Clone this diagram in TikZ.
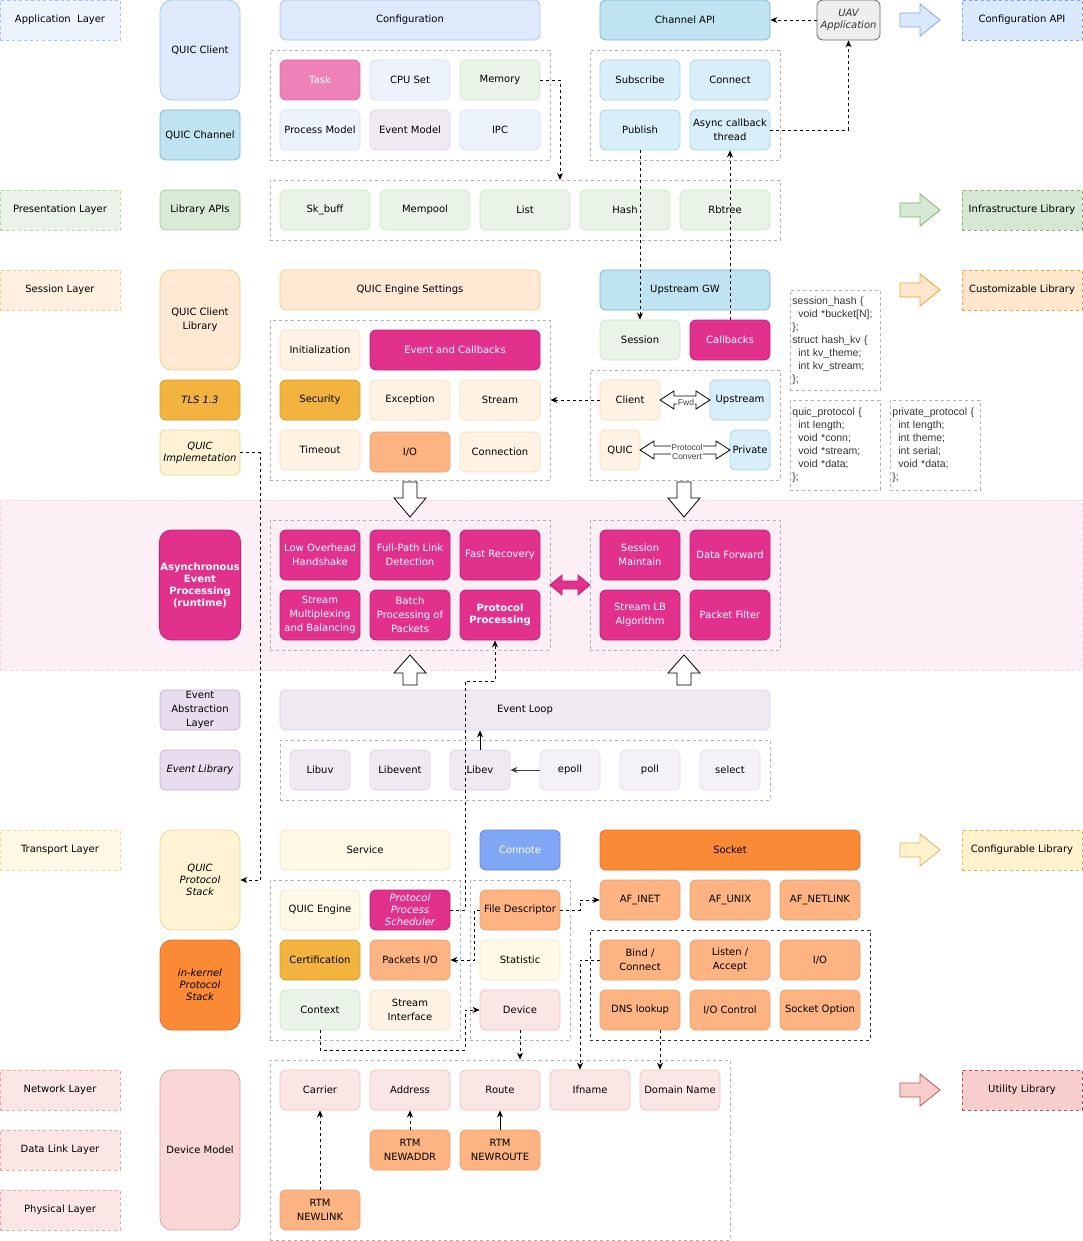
\documentclass[tikz,border=0pt]{standalone}
\usepackage{fontspec}
\setmainfont{DejaVu Sans}
\newfontfamily\codefont{Liberation Sans}
\usetikzlibrary{arrows.meta}

\definecolor{appF}{HTML}{EDF3FC}\definecolor{appD}{HTML}{A9C4EB}
\definecolor{presF}{HTML}{E9F3E7}\definecolor{presD}{HTML}{B5D6A7}
\definecolor{sessF}{HTML}{FFF0E0}\definecolor{sessD}{HTML}{F5C98A}
\definecolor{transF}{HTML}{FFF8E4}\definecolor{transD}{HTML}{F0DA95}
\definecolor{netF}{HTML}{FBE5E5}\definecolor{netD}{HTML}{E8A5A5}
\definecolor{cfgapiF}{HTML}{DAE8FC}\definecolor{cfgapiD}{HTML}{7EA6E0}
\definecolor{infraF}{HTML}{D5E8D4}\definecolor{infraD}{HTML}{82B366}
\definecolor{custF}{HTML}{FFE6CC}\definecolor{custD}{HTML}{E6A630}
\definecolor{confF}{HTML}{FFF2CC}\definecolor{confD}{HTML}{D6B656}
\definecolor{utilF}{HTML}{F8CECC}\definecolor{utilD}{HTML}{B85450}
\definecolor{blueF}{HTML}{DEEAFB}\definecolor{blueD}{HTML}{A9C4EB}
\definecolor{blueL}{HTML}{EDF3FC}\definecolor{blueLD}{HTML}{D3E1F5}
\definecolor{cyanF}{HTML}{BFE3F1}\definecolor{cyanD}{HTML}{78B6D2}
\definecolor{cyanL}{HTML}{D8EEF8}\definecolor{cyanLD}{HTML}{A6D2E8}
\definecolor{greenF}{HTML}{D9EAD7}\definecolor{greenD}{HTML}{A9CF9A}
\definecolor{greenL}{HTML}{E9F3E7}\definecolor{greenLD}{HTML}{CFE5C6}
\definecolor{orangeF}{HTML}{FFE9D4}\definecolor{orangeD}{HTML}{F0CB8C}
\definecolor{orangeL}{HTML}{FFF3E6}\definecolor{orangeLD}{HTML}{F6DDB3}
\definecolor{goldF}{HTML}{F2B43F}\definecolor{goldD}{HTML}{D99A25}
\definecolor{yellowF}{HTML}{FFF3D3}\definecolor{yellowD}{HTML}{EDD494}
\definecolor{yellowL}{HTML}{FFF9E7}\definecolor{yellowLD}{HTML}{F3E6BC}
\definecolor{pinkF}{HTML}{EE82B8}\definecolor{pinkD}{HTML}{E06CA6}
\definecolor{magF}{HTML}{E1318D}\definecolor{magD}{HTML}{C4216F}
\definecolor{purpleF}{HTML}{E7DDEE}\definecolor{purpleD}{HTML}{C7B2D7}
\definecolor{purpleL}{HTML}{EFEAF2}\definecolor{purpleLD}{HTML}{DCD0E4}
\definecolor{purpleLL}{HTML}{F4F2F7}\definecolor{purpleLLD}{HTML}{E3DEEA}
\definecolor{connoteF}{HTML}{7FA7F4}\definecolor{connoteD}{HTML}{5C8AE2}
\definecolor{socketF}{HTML}{FA8A35}\definecolor{socketD}{HTML}{E07028}
\definecolor{salmonF}{HTML}{FDB482}\definecolor{salmonD}{HTML}{EC9D70}
\definecolor{redF}{HTML}{F8D7D6}\definecolor{redD}{HTML}{E2A4A2}
\definecolor{redL}{HTML}{FBE6E6}\definecolor{redLD}{HTML}{EFC0BF}
\definecolor{uavF}{HTML}{EEEEEE}\definecolor{uavD}{HTML}{666666}
\definecolor{bandF}{HTML}{FCF0F6}\definecolor{bandD}{HTML}{F5D3E4}
\definecolor{groupD}{HTML}{B0B0B0}
\definecolor{codeT}{HTML}{333333}

\tikzset{
  box/.style={draw, rounded corners=6pt, line width=0.8pt, align=center, inner sep=1pt,
    minimum width=80pt, minimum height=40pt},
  tall/.style={rounded corners=12pt},
  layer/.style={draw, dashed, line width=0.8pt, minimum width=120pt, minimum height=40pt, align=center},
  group/.style={draw=groupD, dashed, line width=0.8pt, inner sep=0pt},
  code/.style={draw=groupD, dashed, line width=0.8pt, anchor=north west, align=left, inner sep=2pt,
    text width=86pt, font=\codefont\fontsize{10.5}{13}\selectfont, text=codeT},
  lbl/.style={fill=white, inner sep=0.5pt, align=center, text=darkgray,
    font=\codefont\fontsize{8.5}{9}\selectfont},
  dlink/.style={draw, line width=0.8pt, dash pattern=on 3pt off 3pt, -{Stealth[length=7pt,width=6pt]}},
  slink/.style={draw, line width=0.8pt, -{Stealth[length=7pt,width=6pt]}},
  cblue/.style={fill=blueF, draw=blueD},
  cbluel/.style={fill=blueL, draw=blueLD},
  ccyan/.style={fill=cyanF, draw=cyanD},
  ccyanl/.style={fill=cyanL, draw=cyanLD},
  cgreen/.style={fill=greenF, draw=greenD},
  cgreenl/.style={fill=greenL, draw=greenLD},
  corange/.style={fill=orangeF, draw=orangeD},
  corangel/.style={fill=orangeL, draw=orangeLD},
  cgold/.style={fill=goldF, draw=goldD},
  cyellow/.style={fill=yellowF, draw=yellowD},
  cyellowl/.style={fill=yellowL, draw=yellowLD},
  cpink/.style={fill=pinkF, draw=pinkD, text=white},
  cmag/.style={fill=magF, draw=magD, text=white},
  cpurple/.style={fill=purpleF, draw=purpleD},
  cpurplel/.style={fill=purpleL, draw=purpleLD},
  cpurplell/.style={fill=purpleLL, draw=purpleLLD},
  cconnote/.style={fill=connoteF, draw=connoteD, text=white},
  csocket/.style={fill=socketF, draw=socketD},
  csalmon/.style={fill=salmonF, draw=salmonD},
  cred/.style={fill=redF, draw=redD},
  credl/.style={fill=redL, draw=redLD},
  cgray/.style={fill=uavF, draw=uavD, text=codeT},
  rarrow/.pic={\draw[pic actions] (0,-7) -- (20,-7) -- (20,-16) -- (40,0) -- (20,16) -- (20,7) -- (0,7) -- cycle;},
  darrow/.pic={\draw[pic actions] (-7,0) -- (7,0) -- (7,16) -- (16,16) -- (0,35) -- (-16,16) -- (-7,16) -- cycle;},
  uarrow/.pic={\draw[pic actions] (0,0) -- (16,18) -- (7,18) -- (7,30) -- (-7,30) -- (-7,18) -- (-16,18) -- cycle;},
  pics/dblarrow/.style={code={\draw[pic actions] (-#1,0) -- (-#1+14,-9) -- (-#1+14,-4) -- (#1-14,-4) -- (#1-14,-9)
    -- (#1,0) -- (#1-14,9) -- (#1-14,4) -- (-#1+14,4) -- (-#1+14,9) -- cycle;}},
}

\begin{document}
\begin{tikzpicture}[x=1pt, y=-1pt, font=\fontsize{10}{14}\selectfont]
\useasboundingbox (0,0) rectangle (1082,1241);
\draw[fill=bandF, draw=bandD, dashed, line width=0.8pt] (0,500) rectangle (1082,670);

\node (appl) at (60,20) [layer, fill=appF, draw=appD]{Application\ \ Layer};
\node (presl) at (60,210) [layer, fill=presF, draw=presD]{Presentation Layer};
\node (sessl) at (60,290) [layer, fill=sessF, draw=sessD]{Session Layer};
\node (transl) at (60,850) [layer, fill=transF, draw=transD]{Transport Layer};
\node (netl) at (60,1090) [layer, fill=netF, draw=netD]{Network Layer};
\node (linkl) at (60,1150) [layer, fill=netF, draw=netD]{Data Link Layer};
\node (phyl) at (60,1210) [layer, fill=netF, draw=netD]{Physical Layer};

\node (qclient) at (200,50) [box, tall, cblue, minimum height=100pt]{QUIC Client};
\node (qchannel) at (200,135) [box, ccyan, minimum height=50pt]{QUIC Channel};
\node (libapi) at (200,210) [box, cgreen]{Library APIs};
\node (qclib) at (200,320) [box, tall, corange, minimum height=100pt]{QUIC Client\\Library};
\node (tls) at (200,400) [box, cgold, font=\itshape]{TLS 1.3};
\node (qimpl) at (200,452.5) [box, cyellow, minimum height=45pt, font=\itshape]{QUIC\\Implemetation};
\node (async) at (200,585) [box, tall, cmag, minimum height=110pt, font=\bfseries]{Asynchronous\\Event\\Processing\\(runtime)};
\node (evabs) at (200,710) [box, cpurple]{Event\\Abstraction\\Layer};
\node (evlib) at (200,770) [box, cpurple, font=\itshape]{Event Library};
\node (qstack) at (200,880) [box, tall, cyellow, minimum height=100pt, font=\itshape]{QUIC\\Protocol\\Stack};
\node (kstack) at (200,985) [box, tall, csocket, minimum height=90pt, font=\itshape]{in-kernel\\Protocol\\Stack};
\node (devmodel) at (200,1150) [box, tall, cred, minimum height=160pt]{Device Model};

\node (config) at (410,20) [box, cblue, minimum width=260pt]{Configuration};
\node (cfggrp) at (410,105) [group, minimum width=280pt, minimum height=110pt]{};
\node (task) at (320,80) [box, cpink]{Task};
\node (cpuset) at (410,80) [box, cbluel]{CPU Set};
\node (memory) at (500,80) [box, cgreenl]{Memory};
\node (procm) at (320,130) [box, cbluel]{Process Model};
\node (evmodel) at (410,130) [box, cpurplel]{Event Model};
\node (ipc) at (500,130) [box, cbluel]{IPC};

\node (chapi) at (685,20) [box, ccyan, minimum width=170pt]{Channel API};
\node (chgrp) at (685,105) [group, minimum width=190pt, minimum height=110pt]{};
\node (subscribe) at (640,80) [box, ccyanl]{Subscribe};
\node (connect) at (730,80) [box, ccyanl]{Connect};
\node (publish) at (640,130) [box, ccyanl]{Publish};
\node (asynccb) at (730,130) [box, ccyanl]{Async callback\\thread};
\node (uav) at (848.5,20) [box, cgray, minimum width=63pt, font=\itshape]{UAV\\Application};

\node (libgrp) at (525,210) [group, minimum width=510pt, minimum height=60pt]{};
\node (skbuff) at (325,210) [box, cgreenl, minimum width=90pt]{Sk\_buff};
\node (mempool) at (425,210) [box, cgreenl, minimum width=90pt]{Mempool};
\node (list) at (525,210) [box, cgreenl, minimum width=90pt]{List};
\node (hash) at (625,210) [box, cgreenl, minimum width=90pt]{Hash};
\node (rbtree) at (725,210) [box, cgreenl, minimum width=90pt]{Rbtree};
\coordinate (memin) at (560,180);

\node (engset) at (410,290) [box, corange, minimum width=260pt]{QUIC Engine Settings};
\node (upgw) at (685,290) [box, ccyan, minimum width=170pt]{Upstream GW};
\node (session) at (640,340) [box, cgreenl]{Session};
\node (callbacks) at (730,340) [box, cmag]{Callbacks};

\node (enggrp) at (410,400) [group, minimum width=280pt, minimum height=160pt]{};
\node (init) at (320,350) [box, corangel]{Initialization};
\node (evcb) at (455,350) [box, cmag, minimum width=170pt]{Event and Callbacks};
\node (security) at (320,400) [box, cgold]{Security};
\node (exception) at (410,400) [box, corangel]{Exception};
\node (stream) at (500,400) [box, corangel]{Stream};
\node (timeout) at (320,450) [box, corangel]{Timeout};
\node (io) at (410,452) [box, csalmon]{I/O};
\node (connection) at (500,452) [box, corangel]{Connection};

\node (fwdgrp) at (685,425) [group, minimum width=190pt, minimum height=110pt]{};
\node (client) at (630,400) [box, corangel, minimum width=60pt]{Client};
\node (upstream) at (740,400) [box, ccyanl, minimum width=60pt]{Upstream};
\node (quic) at (620,450) [box, corangel, minimum width=40pt]{QUIC};
\node (private) at (750,450) [box, ccyanl, minimum width=40pt]{Private};
\pic[draw=black, fill=white, line width=0.8pt] at (685,400) {dblarrow=25};
\node (fwdlbl) at (686,402) [lbl]{Fwd};
\pic[draw=black, fill=white, line width=0.8pt] at (685,450) {dblarrow=45};
\node (convlbl) at (687,452) [lbl]{Protocol\\Convert};

\node (hashcode) at (790,290) [code, minimum height=100pt]{session\_hash \{\\\hspace*{6pt}void *bucket[N];\\\};\\struct hash\_kv \{\\\hspace*{6pt}int kv\_theme;\\\hspace*{6pt}int kv\_stream;\\\};};
\node (quiccode) at (790,400) [code, minimum height=90pt]{quic\_protocol \{\\\hspace*{6pt}int length;\\\hspace*{6pt}void *conn;\\\hspace*{6pt}void *stream;\\\hspace*{6pt}void *data;\\\};};
\node (privcode) at (890,400) [code, minimum height=90pt]{private\_protocol \{\\\hspace*{6pt}int length;\\\hspace*{6pt}int theme;\\\hspace*{6pt}int serial;\\\hspace*{6pt}void *data;\\\};};

\pic[draw=black, fill=white, line width=0.8pt] at (410,482) {darrow};
\pic[draw=black, fill=white, line width=0.8pt] at (684,482) {darrow};

\node (featgrp) at (410,585) [group, minimum width=280pt, minimum height=130pt]{};
\node (lowoh) at (320,555) [box, cmag, minimum height=50pt]{Low Overhead\\Handshake};
\node (fullpath) at (410,555) [box, cmag, minimum height=50pt]{Full-Path Link\\Detection};
\node (fastrec) at (500,555) [box, cmag, minimum height=50pt]{Fast Recovery};
\node (smux) at (320,615) [box, cmag, minimum height=50pt]{Stream\\Multiplexing\\and Balancing};
\node (batch) at (410,615) [box, cmag, minimum height=50pt]{Batch\\Processing of\\Packets};
\node (protoproc) at (500,615) [box, cmag, minimum height=50pt, font=\bfseries]{Protocol\\Processing};
\draw[fill=magF, draw=magD, line width=0.8pt] (550,585) -- (562,575) -- (562,581) -- (578,581) -- (578,575) -- (590,585)
  -- (578,595) -- (578,589) -- (562,589) -- (562,595) -- cycle;
\node (sessgrp) at (685,585) [group, minimum width=190pt, minimum height=130pt]{};
\node (smaint) at (640,555) [box, cmag, minimum height=50pt]{Session\\Maintain};
\node (dfwd) at (730,555) [box, cmag, minimum height=50pt]{Data Forward};
\node (slb) at (640,615) [box, cmag, minimum height=50pt]{Stream LB\\Algorithm};
\node (pfilter) at (730,615) [box, cmag, minimum height=50pt]{Packet Filter};

\pic[draw=black, fill=white, line width=0.8pt] at (410,655) {uarrow};
\pic[draw=black, fill=white, line width=0.8pt] at (684,655) {uarrow};

\node (evloop) at (525,710) [box, cpurplel, minimum width=490pt]{Event Loop};
\node (evgrp) at (525,770) [group, minimum width=490pt, minimum height=60pt]{};
\node (libuv) at (320,770) [box, cpurplel, minimum width=60pt]{Libuv};
\node (libevent) at (400,770) [box, cpurplel, minimum width=60pt]{Libevent};
\node (libev) at (480,770) [box, cpurplel, minimum width=60pt]{Libev};
\node (epoll) at (570,770) [box, cpurplell, minimum width=60pt]{epoll};
\node (poll) at (650,770) [box, cpurplell, minimum width=60pt]{poll};
\node (select) at (730,770) [box, cpurplell, minimum width=60pt]{select};

\node (service) at (365,850) [box, cyellowl, minimum width=170pt]{Service};
\node (connote) at (520,850) [box, cconnote]{Connote};
\node (socket) at (730,850) [box, csocket, minimum width=260pt]{Socket};
\node (qsgrp) at (365,960) [group, minimum width=190pt, minimum height=160pt]{};
\node (qengine) at (320,910) [box, cyellowl]{QUIC Engine};
\node (ppsched) at (410,910) [box, cmag, font=\itshape]{Protocol\\Process\\Scheduler};
\node (cert) at (320,960) [box, cgold]{Certification};
\node (pktio) at (410,960) [box, csalmon]{Packets I/O};
\node (context) at (320,1010) [box, cgreenl]{Context};
\node (sif) at (410,1010) [box, corangel]{Stream\\Interface};
\node (fdgrp) at (520,960) [group, minimum width=100pt, minimum height=160pt]{};
\node (fdesc) at (520,910) [box, csalmon]{File Descriptor};
\node (statistic) at (520,960) [box, cyellowl]{Statistic};
\node (device) at (520,1010) [box, credl]{Device};
\node (afinet) at (640,900) [box, csalmon]{AF\_INET};
\node (afunix) at (730,900) [box, csalmon]{AF\_UNIX};
\node (afnetlink) at (820,900) [box, csalmon]{AF\_NETLINK};
\node (sockgrp) at (730,985) [group, draw=black!80, minimum width=280pt, minimum height=110pt]{};
\node (bind) at (640,960) [box, csalmon]{Bind /\\Connect};
\node (listen) at (730,960) [box, csalmon]{Listen /\\Accept};
\node (sockio) at (820,960) [box, csalmon]{I/O};
\node (dns) at (640,1010) [box, csalmon]{DNS lookup};
\node (ioctl) at (730,1010) [box, csalmon]{I/O Control};
\node (sockopt) at (820,1010) [box, csalmon]{Socket Option};

\node (netgrp) at (500,1150) [group, minimum width=460pt, minimum height=180pt]{};
\node (carrier) at (320,1090) [box, credl]{Carrier};
\node (address) at (410,1090) [box, credl]{Address};
\node (route) at (500,1090) [box, credl]{Route};
\node (ifname) at (590,1090) [box, credl]{Ifname};
\node (domain) at (680,1090) [box, credl]{Domain Name};
\node (newaddr) at (410,1150) [box, csalmon]{RTM\\NEWADDR};
\node (newroute) at (500,1150) [box, csalmon]{RTM\\NEWROUTE};
\node (newlink) at (320,1210) [box, csalmon]{RTM\\NEWLINK};

\pic[draw=cfgapiD, fill=cfgapiF, line width=0.8pt] at (900,20) {rarrow};
\pic[draw=infraD, fill=infraF, line width=0.8pt] at (900,210) {rarrow};
\pic[draw=custD, fill=custF, line width=0.8pt] at (900,290) {rarrow};
\pic[draw=confD, fill=confF, line width=0.8pt] at (900,850) {rarrow};
\pic[draw=utilD, fill=utilF, line width=0.8pt] at (900,1090) {rarrow};
\node (cfgapi) at (1022,20) [layer, fill=cfgapiF, draw=cfgapiD]{Configuration API};
\node (infra) at (1022,210) [layer, fill=infraF, draw=infraD]{Infrastructure Library};
\node (custom) at (1022,290) [layer, fill=custF, draw=custD]{Customizable Library};
\node (configurable) at (1022,850) [layer, fill=confF, draw=confD]{Configurable Library};
\node (utility) at (1022,1090) [layer, fill=utilF, draw=utilD]{Utility Library};

\draw[dlink] (uav) -- (chapi);
\draw[dlink] (asynccb.east) -| (uav.south);
\draw[dlink] (memory.east) -| (memin);
\draw[dlink] (publish.south) -- (session.north);
\draw[dlink] (callbacks.north) -- (asynccb.south);
\draw[dlink] (client.west) -- (enggrp.east);
\draw[dlink] (qimpl.east) -- ++(20,0) |- (qstack.east);
\draw[dlink] (ppsched.east) -- ++(15,0) -- ++(0,-229) -| ([xshift=-5pt]protoproc.south);
\draw[slink] (libev.north) -- (libev.north |- evloop.south);
\draw[slink, draw=darkgray] (epoll) -- (libev);
\draw[dlink] (fdesc.east) -- ++(20,0) |- (afinet.west);
\draw[dlink] (fdesc.west) -- ++(-5,0) |- (pktio.east);
\draw[dlink] (context.south) -- ++(0,20) -- ++(145,0) |- (device.west);
\draw[dlink] (device.south) -- (device.south |- netgrp.north);
\draw[dlink] (bind.west) -| ([xshift=-10pt]ifname.north);
\draw[dlink] ([xshift=20pt]dns.south) -- ([xshift=-20pt]domain.north);
\draw[dlink] (newlink) -- (carrier);
\draw[dlink] (newaddr) -- (address);
\draw[slink] (newroute) -- (route);
\end{tikzpicture}
\end{document}
